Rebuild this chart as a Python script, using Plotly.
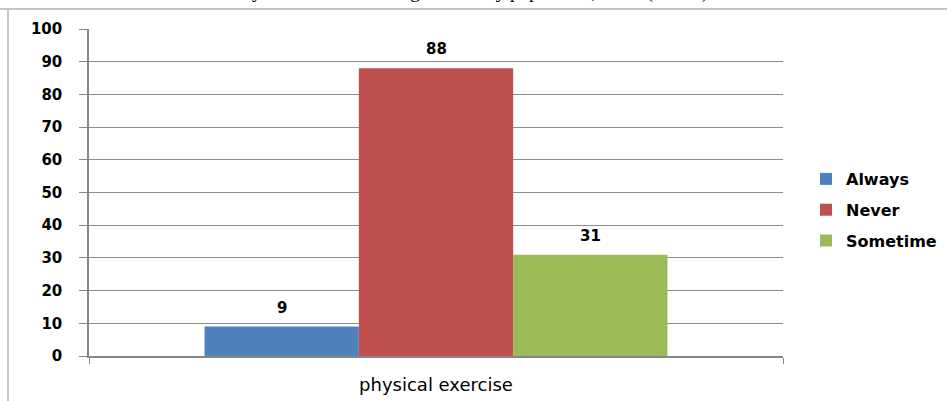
import plotly.graph_objects as go

categories = ["physical exercise"]
series_names = ["Always", "Never", "Sometime"]
series_values = [[9], [88], [31]]
colors = ["#4F81BD", "#C0504D", "#9BBB59"]
y_ticks = [0, 10, 20, 30, 40, 50, 60, 70, 80, 90, 100]
title_text = "Physical exercise among the elderly population, Iloilo (n=128)"

W, H = 947, 401
L, R, T, B = 89, 164, 29, 45
pw, ph = W - L - R, H - T - B

fig = go.Figure()
for i, (name, vals, col) in enumerate(zip(series_names, series_values, colors)):
    fig.add_trace(go.Bar(
        x=categories, y=vals, name=name, marker=dict(color=col, line=dict(width=0)),
        legendgroup=name,
    ))

# data labels
bargap = 0.333
barw = pw * (1 - bargap) / len(series_names)
for i, vals in enumerate(series_values):
    for c, v in zip(categories, vals):
        fig.add_annotation(x=c, y=v, xref="x", yref="y", text=f"<b>{v}</b>",
                           showarrow=False, yanchor="bottom", yshift=8,
                           xshift=(i - (len(series_names) - 1) / 2) * barw,
                           font=dict(family="DejaVu Sans", size=15, color="#000"))

# cut-off title at top
fig.add_annotation(x=(470 - L) / pw, y=1 + (T - 5) / ph,
                   xref="paper", yref="paper", text=title_text, showarrow=False,
                   yanchor="bottom", xanchor="center",
                   font=dict(family="Liberation Serif", size=19, color="#000"))

# outer frame (left and top border)
fx = (8 - L) / pw
fy = 1 + (T - 9) / ph
fig.add_shape(type="line", xref="paper", yref="paper", x0=fx, x1=fx, y0=-1, y1=fy,
              line=dict(color="#b3b3b3", width=1.5))
fig.add_shape(type="line", xref="paper", yref="paper", x0=(0 - L) / pw, x1=(W - L) / pw,
              y0=fy, y1=fy, line=dict(color="#b3b3b3", width=1.5))

fig.update_layout(
    width=W, height=H,
    margin=dict(l=L, r=R, t=T, b=B, autoexpand=False),
    paper_bgcolor="white", plot_bgcolor="white",
    barmode="group", bargap=bargap, bargroupgap=0,
    showlegend=True,
    legend=dict(x=(806 - L) / pw, y=(356 - 210) / ph, xanchor="left", yanchor="middle",
                font=dict(family="DejaVu Sans", size=16, color="#000", weight="bold"),
                tracegroupgap=7, itemwidth=30, bgcolor="rgba(0,0,0,0)"),
    xaxis=dict(showgrid=False, showline=True, linecolor="#868686", linewidth=1.5,
               ticks="outside", tickson="boundaries", ticklen=6, tickcolor="#868686",
               ticklabelstandoff=12, automargin=False,
               tickfont=dict(family="DejaVu Sans", size=18, color="#000")),
    yaxis=dict(range=[0, 100], tickvals=y_ticks, showgrid=True, gridcolor="#8c8c8c",
               gridwidth=1, showline=True, linecolor="#868686", linewidth=1.5,
               ticks="outside", ticklen=8, tickcolor="#868686", ticklabelstandoff=14,
               zeroline=False, automargin=False,
               tickfont=dict(family="DejaVu Sans", size=15, color="#000", weight="bold")),
    font=dict(family="DejaVu Sans"),
)

fig.write_html("out.html", config={"displayModeBar": False},
               post_script="document.body.style.margin='0';document.body.style.overflow='hidden';")
